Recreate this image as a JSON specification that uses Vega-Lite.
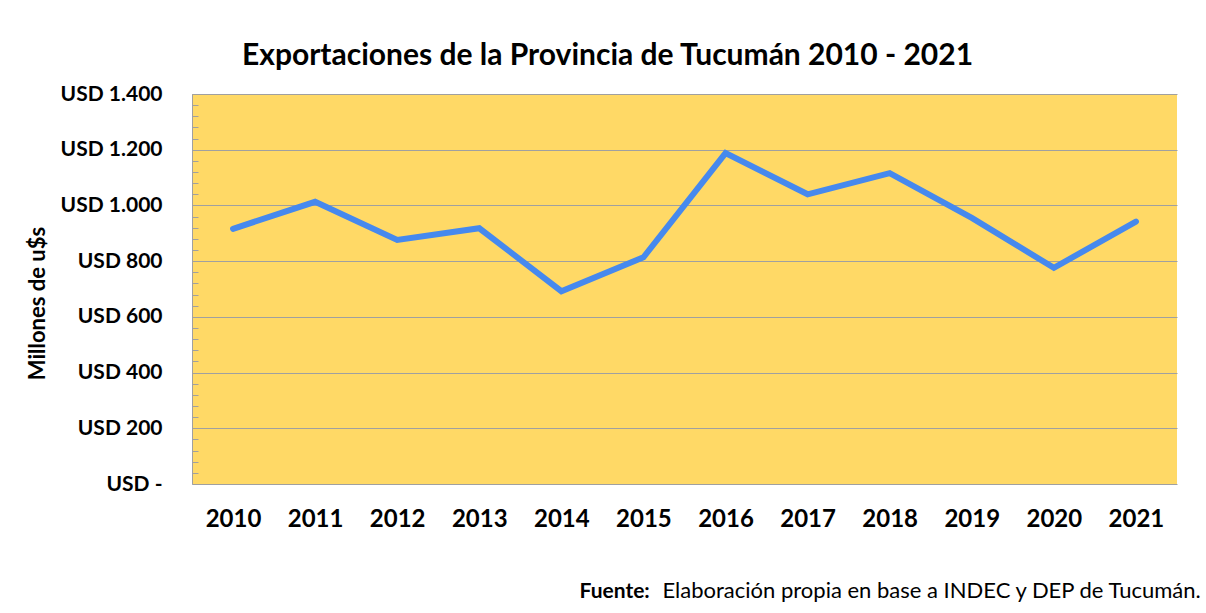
{
  "$schema": "https://vega.github.io/schema/vega-lite/v6.json",
  "autosize": "none",
  "width": 985,
  "height": 390,
  "padding": {"left": 192, "top": 94, "right": 29, "bottom": 129},
  "background": "white",
  "title": {
    "text": "Exportaciones de la Provincia de Tucumán 2010 - 2021",
    "font": "Lato",
    "fontSize": 30,
    "fontWeight": "bold",
    "color": "#000000",
    "anchor": "middle",
    "frame": "group",
    "dx": -77,
    "dy": 38,
    "baseline": "alphabetic",
    "offset": 26
  },
  "config": {
    "view": {"stroke": null, "fill": "#FFD966"},
    "axis": {"labelFont": "Lato", "titleFont": "Lato"}
  },
  "data": {
    "values": [
      {"anio": "2010", "valor": 916},
      {"anio": "2011", "valor": 1013},
      {"anio": "2012", "valor": 876},
      {"anio": "2013", "valor": 918},
      {"anio": "2014", "valor": 692},
      {"anio": "2015", "valor": 814},
      {"anio": "2016", "valor": 1188},
      {"anio": "2017", "valor": 1040},
      {"anio": "2018", "valor": 1116},
      {"anio": "2019", "valor": 955},
      {"anio": "2020", "valor": 776},
      {"anio": "2021", "valor": 942}
    ]
  },
  "resolve": {"axis": {"y": "independent"}},
  "layer": [
    {
      "mark": {"type": "line", "color": "#4689ee", "strokeWidth": 6, "strokeCap": "round", "strokeJoin": "miter"},
      "encoding": {
        "x": {
          "field": "anio",
          "type": "ordinal",
          "scale": {"type": "point", "padding": 0.5},
          "axis": {
            "labelAngle": 0,
            "labelFontSize": 24,
            "labelFontWeight": "bold",
            "labelColor": "#000000",
            "labelBaseline": "alphabetic",
            "labelPadding": 42,
            "ticks": false,
            "domainColor": "#a0a0a0",
            "domainWidth": 1,
            "grid": false,
            "title": "Elaboración propia en base a INDEC y DEP de Tucumán.",
            "titleFontSize": 22,
            "titleFontWeight": "normal",
            "titleColor": "#000000",
            "titleAlign": "left",
            "titleBaseline": "alphabetic",
            "titleAnchor": "start",
            "titleX": 470,
            "titleY": 113
          }
        },
        "y": {
          "field": "valor",
          "type": "quantitative",
          "scale": {"domain": [0, 1400], "nice": false},
          "axis": {
            "orient": "left",
            "values": [0,40,80,120,160,200,240,280,320,360,400,440,480,520,560,600,640,680,720,760,800,840,880,920,960,1000,1040,1080,1120,1160,1200,1240,1280,1320,1360,1400],
            "labelExpr": "datum.value % 200 === 0 ? (datum.value === 0 ? 'USD -' : 'USD ' + replace(format(datum.value, ','), ',', '.')) : ''",
            "labelFontSize": 21,
            "labelFontWeight": "bold",
            "labelColor": "#000000",
            "labelPadding": 36,
            "labelOverlap": false,
            "labelFlush": false,
            "tickSize": -6,
            "tickColor": "#a0a0a0",
            "tickWidth": 1,
            "domainColor": "#a0a0a0",
            "domainWidth": 1,
            "grid": true,
            "gridColor": "#a0a0a0",
            "gridWidth": 1,
            "gridOpacity": {"condition": {"test": "datum.value % 200 === 0 && datum.value > 0", "value": 1}, "value": 0},
            "title": "Millones de u$s",
            "titleFontSize": 22,
            "titleFontWeight": "bold",
            "titleColor": "#000000",
            "titleAngle": -90,
            "titleAlign": "center",
            "titleBaseline": "alphabetic",
            "titleX": -148,
            "titleY": 209
          }
        }
      }
    },
    {
      "mark": {"type": "point", "opacity": 0, "size": 1},
      "encoding": {
        "x": {"field": "anio", "type": "ordinal"},
        "y": {
          "field": "valor",
          "type": "quantitative",
          "axis": {
            "orient": "right",
            "domain": false,
            "ticks": false,
            "labels": false,
            "grid": false,
            "title": "Fuente:",
            "titleFontSize": 21,
            "titleFontWeight": "bold",
            "titleColor": "#000000",
            "titleAngle": 0,
            "titleAlign": "left",
            "titleBaseline": "alphabetic",
            "titleX": -598,
            "titleY": 503
          }
        }
      }
    }
  ]
}
